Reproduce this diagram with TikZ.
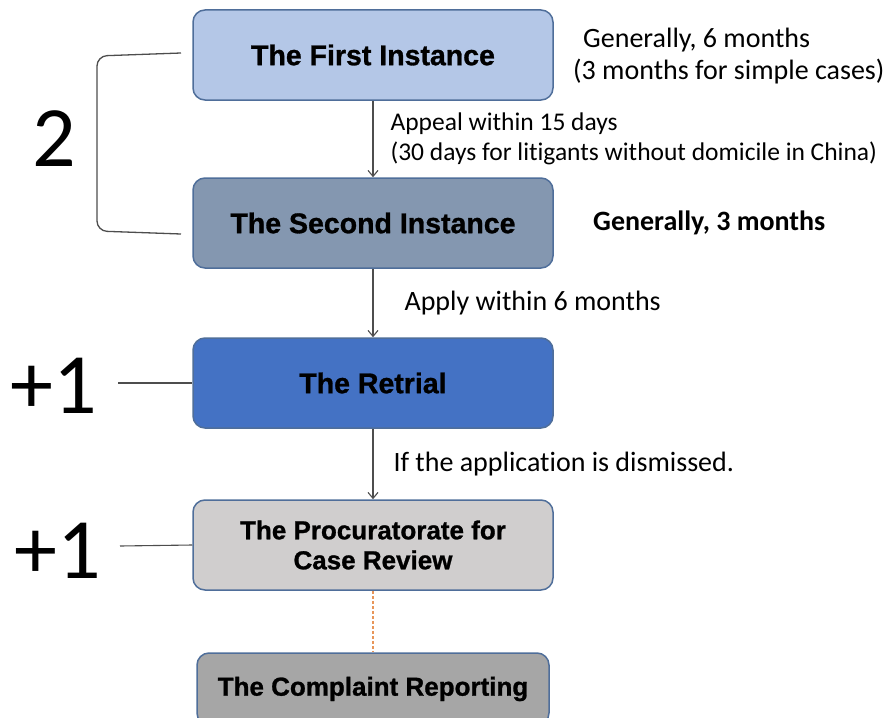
\documentclass[tikz,border=0pt]{standalone}
\usepackage{fontspec}
\setmainfont{Liberation Sans}
\newfontfamily\carlito[Ligatures=NoCommon]{Carlito}
\newfontfamily\stagefont[FakeBold=1]{Liberation Sans Bold}
\usetikzlibrary{arrows.meta}

\definecolor{firstblue}{HTML}{B4C7E7}
\definecolor{secondblue}{HTML}{8497B0}
\definecolor{retrialblue}{HTML}{4472C4}
\definecolor{reviewgray}{HTML}{D0CECE}
\definecolor{complaintgray}{HTML}{A6A6A6}
\definecolor{stageedge}{HTML}{4F6E9A}
\definecolor{linkgray}{HTML}{4D4D4D}
\definecolor{dotorange}{HTML}{E8965A}

\tikzset{
  stage/.style={draw=stageedge, line width=1.5pt, rounded corners=12pt,
    minimum width=360pt, minimum height=90pt, align=center,
    font=\stagefont\fontsize{28.5}{30}\selectfont, text=black},
  smallstage/.style={stage, font=\stagefont\fontsize{26}{30}\selectfont},
  link/.style={draw=linkgray, line width=1.1pt, -{Straight Barb[length=6pt,width=10pt]}},
  note/.style={font=\carlito\fontsize{28}{32}\selectfont, align=left, inner sep=0pt},
  tally/.style={font=\carlito\fontsize{86}{86}\selectfont},
}

\begin{document}
\begin{tikzpicture}[x=1pt,y=-1pt]
\useasboundingbox (0,0) rectangle (896,717);
% the stages
\node[stage, fill=firstblue] (first) at (373,55) {The First Instance};
\node[stage, fill=secondblue] (second) at (373,223) {The Second Instance};
\node[stage, fill=retrialblue] (retrial) at (373,383) {The Retrial};
\node[smallstage, fill=reviewgray] (review) at (373,545) {The Procuratorate for\\Case Review};
\node[smallstage, fill=complaintgray, minimum width=352pt, minimum height=72pt] (complaint) at (373,689) {The Complaint Reporting};

% arrows between them
\draw[link] (first) -- (second)
  node[midway, right, note, xshift=17pt, font=\carlito\fontsize{25.5}{30}\selectfont]
  {Appeal within 15 days\\(30 days for litigants without domicile in China)};
\draw[link] (second) -- (retrial)
  node[midway, right, note, xshift=31pt] {Apply within 6 months};
\draw[link] (retrial) -- (review)
  node[midway, right, note, xshift=20pt] {If the application is dismissed.};
\draw[dotorange, line width=1.1pt, dash pattern=on 3pt off 2pt] (review) -- (complaint);

% time limits
\node[note, anchor=west] (firsttime) at (573,56) {\hspace*{10pt}Generally, 6 months\\(3 months for simple cases)};
\node[note, anchor=west, font=\carlito\bfseries\fontsize{28}{32}\selectfont] (secondtime) at (593,223) {Generally, 3 months};

% counts on the left
\coordinate (btop) at (181,53);
\coordinate (bbot) at (181,234);
\draw[linkgray, line width=1.3pt, rounded corners=10pt] (btop) -- (97,56) -- (97,231) -- (bbot);
\node[tally] (two) at (54,139) {2};
\node[tally] (plusretrial) at (54,386) {+1};
\node[tally] (plusreview) at (58,551) {+1};
\draw[linkgray, line width=1.1pt] (118,383) -- (retrial.west);
\draw[linkgray, line width=1.1pt] (120,546) -- (review.west);
\end{tikzpicture}
\end{document}
